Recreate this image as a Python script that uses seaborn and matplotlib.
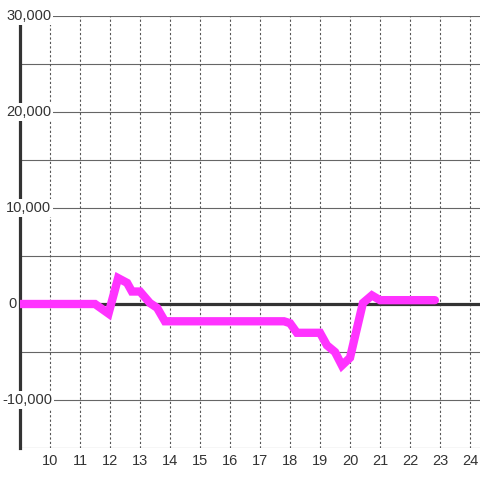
import numpy as np
import pandas as pd
import matplotlib
matplotlib.use("Agg")
import matplotlib.pyplot as plt
import seaborn as sns

# data
hours = [9.0, 11.5, 11.95, 12.27, 12.57, 12.73, 13.0, 13.33, 13.57, 13.83,
         17.8, 18.0, 18.23, 19.0, 19.23, 19.5, 19.73, 20.0, 20.43, 20.73,
         21.0, 22.83]
values = [0, 0, -1000, 2700, 2200, 1300, 1300, 100, -400, -1800,
          -1800, -2000, -3000, -3000, -4300, -5000, -6400, -5600, 100, 900,
          400, 400]
x_ticks = list(range(10, 25))
y_ticks = [-10000, 0, 10000, 20000, 30000]
y_grid = [-15000, -10000, -5000, 5000, 10000, 15000, 20000, 25000, 30000]

df = pd.DataFrame({"hour": hours, "value": values})

sns.set_style("white")
plt.rcParams['font.family'] = ['Liberation Sans', 'DejaVu Sans']

fig = plt.figure(figsize=(4.8, 4.8), dpi=100)
ax = fig.add_axes([20/480, 32/480, 460/480, 432/480])
ax.set_xlim(9, 24.333)
ax.set_ylim(-15000, 30000)

# grid
for yv in y_grid:
    ax.axhline(yv, color='#666666', lw=0.8, zorder=1)
for xv in x_ticks:
    ax.axvline(xv, color='#555555', lw=0.8, ls=(0, (2, 2)), zorder=1)
ax.axhline(0, color='#333333', lw=2.3, zorder=2)

sns.lineplot(data=df, x="hour", y="value", color='#ff33ff', lw=6,
             ax=ax, zorder=6, solid_joinstyle='miter')

for s in ['top', 'right', 'bottom']:
    ax.spines[s].set_visible(False)
ax.spines['left'].set_color('#333333')
ax.spines['left'].set_linewidth(2.3)
ax.spines['left'].set_zorder(3)

ax.set_xticks(x_ticks)
ax.set_xticklabels([str(t) for t in x_ticks])
ax.tick_params(axis='x', length=0, pad=4, labelsize=10.5, labelcolor='#333333')
ax.set_yticks([])
ax.set_xlabel('')
ax.set_ylabel('')

trans = matplotlib.transforms.blended_transform_factory(fig.transFigure, ax.transData)
for yv in y_ticks:
    xpos = 2/480 if yv < 0 else (8/480 if yv == 0 else 6/480)
    ax.text(xpos, yv, f"{yv:,}", transform=trans, ha='left', va='center',
            fontsize=10.5, color='#333333', zorder=4, clip_on=False,
            bbox=dict(facecolor='white', edgecolor='none', pad=1.2))

fig.savefig("out.png", dpi=100)
